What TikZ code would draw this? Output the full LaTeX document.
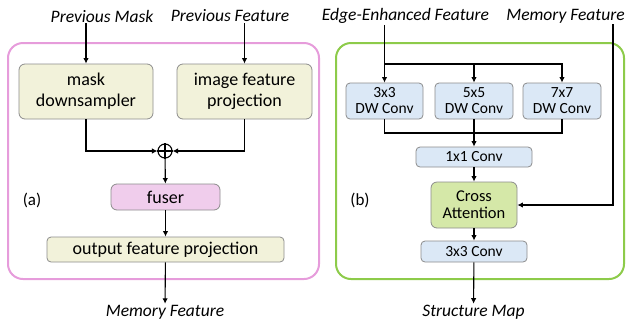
\documentclass[tikz,border=0pt]{standalone}
\usepackage{fontspec}
\setmainfont{Carlito}
\usetikzlibrary{arrows.meta,positioning}
\definecolor{boxyellow}{RGB}{242,242,218}
\definecolor{boxpink}{RGB}{240,205,236}
\definecolor{boxblue}{RGB}{219,232,246}
\definecolor{boxgreen}{RGB}{213,232,168}
\definecolor{boxgray}{RGB}{140,140,140}
\definecolor{framepink}{RGB}{230,156,219}
\definecolor{framegreen}{RGB}{141,203,74}

\begin{document}
\begin{tikzpicture}[
  x=1pt, y=-1pt,
  block/.style={rectangle, draw=boxgray, line width=0.8pt, fill=boxyellow,
    rounded corners=6pt, align=center, inner sep=0pt,
    font=\fontsize{18}{21}\selectfont},
  small/.style={block, fill=boxblue, rounded corners=4pt,
    font=\fontsize{15.5}{16}\selectfont},
  inout/.style={inner sep=1pt, font=\fontsize{17.5}{19}\selectfont\itshape},
  tag/.style={inner sep=0pt, font=\fontsize{17}{19}\selectfont},
  frame/.style={rounded corners=15pt, line width=2pt},
  wire/.style={line width=1.1pt},
  arrow/.style={wire, -{Latex[length=5.5pt,width=5.5pt]}}
]
\useasboundingbox (0,0) rectangle (626,322);

% Frames
\draw[frame, draw=framepink] (8,43) rectangle (319,279);
\draw[frame, draw=framegreen] (336,43) rectangle (624,279);

% (a) memory encoder
\node[inout] (prevmask) at (102,16) {Previous Mask};
\node[inout] (prevfeat) at (230,16) {Previous Feature};
\node[block, minimum width=134pt, minimum height=55pt] (mask) at (86,91.5)
  {mask\\downsampler};
\node[block, minimum width=135pt, minimum height=55pt] (imgproj) at (244.5,91.5)
  {image feature\\projection};
\node[circle, draw, wire, minimum size=14pt, inner sep=0pt] (plus)
  at (165,151) {};
\node[block, fill=boxpink, minimum width=109pt, minimum height=26pt] (fuser)
  at (165.5,197) {fuser};
\node[block, minimum width=237pt, minimum height=25pt, rounded corners=4pt]
  (outproj) at (165.5,249.5) {output feature projection};
\node[inout] (memout) at (165,312) {Memory Feature};
\node[tag] (taga) at (32,200) {(a)};

\draw[arrow] (prevmask.south -| mask.north) -- (mask.north);
\draw[arrow] (prevfeat.south -| imgproj.north) -- (imgproj.north);
\draw[arrow] (mask.south) |- (plus.west);
\draw[arrow] (imgproj.south) |- (plus.east);
\draw[wire] (plus.north) -- (plus.south) (plus.west) -- (plus.east);
\draw[arrow] (plus) -- (fuser);
\draw[arrow] (fuser) -- (outproj);
\draw[arrow] (outproj) -- (memout);

% (b) structure branch
\node[inout] (edgefeat) at (405.5,16) {Edge-Enhanced Feature};
\node[inout] (memin) at (565.5,16) {Memory Feature};
\node[small, minimum width=77pt, minimum height=36pt] (dw3) at (384.5,101)
  {3x3\\DW Conv};
\node[small, minimum width=78pt, minimum height=36pt] (dw5) at (474,101)
  {5x5\\DW Conv};
\node[small, minimum width=78pt, minimum height=36pt] (dw7) at (562,101)
  {7x7\\DW Conv};
\node[small, minimum width=116pt, minimum height=20pt] (conv1) at (474,157)
  {1x1 Conv};
\node[block, fill=boxgreen, minimum width=86pt, minimum height=46pt,
  font=\fontsize{16.5}{17}\selectfont] (cross) at (474,205) {Cross\\Attention};
\node[small, minimum width=106pt, minimum height=21pt] (conv3) at (474,251.5)
  {3x3 Conv};
\node[inout] (structmap) at (473.5,312) {Structure Map};
\node[tag] (tagb) at (360,200) {(b)};

\coordinate (split) at (474,64);
\coordinate (merge) at (474,133);
\coordinate (memturn) at (613,205);

\draw[arrow] (edgefeat.south -| dw3.north) -- (dw3.north);
\draw[arrow] (dw3.north |- split) -| (dw7.north);
\draw[arrow] (split) -- (dw5.north);
\draw[wire] (dw3.south) |- (merge) -| (dw7.south);
\draw[wire] (dw5.south) -- (merge);
\draw[arrow] (merge) -- (conv1);
\draw[arrow] (conv1) -- (cross);
\draw[arrow] (memin.south -| memturn) -- (memturn) -- (cross.east);
\draw[arrow] (cross) -- (conv3);
\draw[arrow] (conv3) -- (structmap);
\end{tikzpicture}
\end{document}
